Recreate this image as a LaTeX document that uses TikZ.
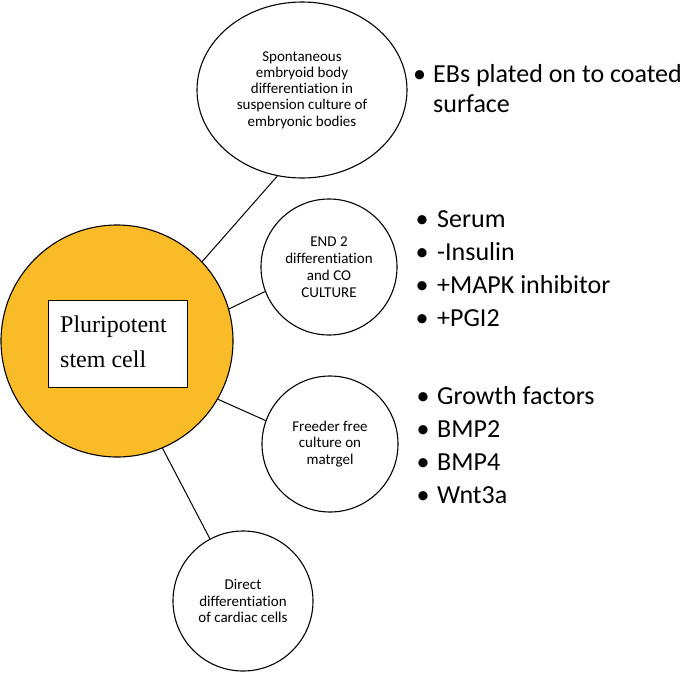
\documentclass[tikz,border=0pt]{standalone}
\usepackage{fontspec}
\setmainfont{Carlito}[Ligatures=NoCommon]
\newfontfamily\timesf{Liberation Serif}
\usetikzlibrary{shapes.geometric}
\definecolor{gold}{RGB}{250,187,40}
\tikzset{
  bubble/.style={circle, draw=black, line width=1.1pt, inner sep=0pt, align=center,
     font=\fontsize{15}{16.8}\selectfont},
  link/.style={draw=black, line width=1pt},
  blist/.style={anchor=base west, inner sep=0pt, font=\fontsize{26}{33}\selectfont},
}
\newcommand{\bitem}[2]{\makebox[#1][l]{\hspace{0pt}•}#2}
\begin{document}
\begin{tikzpicture}[x=1pt,y=-1pt]
\useasboundingbox (0,0) rectangle (685,672);
% main cell
\node[circle, draw=black, line width=1.1pt, fill=gold, minimum size=232pt, inner sep=0pt] (psc) at (117,341) {};
\node[draw=black, line width=0.8pt, fill=white, minimum width=139pt, minimum height=87pt, inner sep=0pt] (box) at (117.5,343.5) {};
\node[anchor=base west, inner sep=0pt, align=left, font=\timesf\fontsize{24}{35}\selectfont] (lbl) at (60,367) {Pluripotent\\stem cell};
% bubbles
\node[ellipse, draw=black, line width=1.1pt, minimum width=210pt, minimum height=176pt, inner sep=0pt, align=center, font=\fontsize{15}{16.2}\selectfont] (ebd) at (302,90) {Spontaneous\\embryoid body\\differentiation in\\suspension culture of\\embryonic bodies};
\node[bubble, minimum size=136pt] (end) at (329,267) {END 2\\differentiation\\and CO\\CULTURE};
\node[bubble, minimum size=136pt] (ffc) at (330,444) {Freeder free\\culture on\\matrgel};
\node[bubble, minimum size=140pt] (dir) at (243,601) {Direct\\differentiation\\of cardiac cells};
% connectors
\draw[link] (psc.43) -- (ebd.254.5);
\draw[link] (psc.16) -- (end.201.5);
\draw[link] (psc.-30) -- (ffc.160);
\draw[link] (psc.-67) -- (dir.118);
% bullet lists
\node[blist, font=\fontsize{26}{30}\selectfont, align=left] (l1) at (413,112) {\bitem{20pt}{EBs plated on to coated}\\\hspace{20pt}surface};
\node[blist, align=left] (l2) at (415.5,326) {\bitem{21.5pt}{Serum}\\\bitem{21.5pt}{-Insulin}\\\bitem{21.5pt}{+MAPK inhibitor}\\\bitem{21.5pt}{+PGI2}};
\node[blist, align=left] (l3) at (416.5,503) {\bitem{20.5pt}{Growth factors}\\\bitem{20.5pt}{BMP2}\\\bitem{20.5pt}{BMP4}\\\bitem{20.5pt}{Wnt3a}};
\end{tikzpicture}
\end{document}
